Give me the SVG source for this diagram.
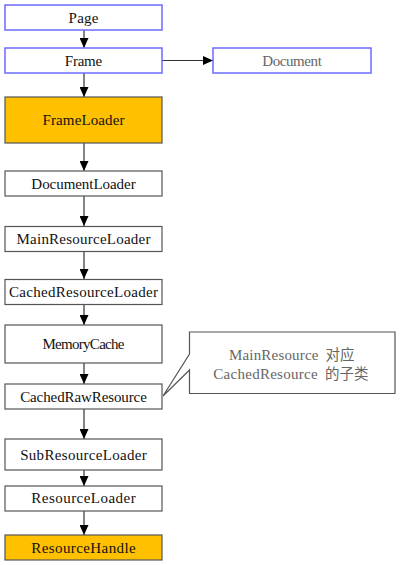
<svg xmlns="http://www.w3.org/2000/svg" width="402" height="565" viewBox="0 0 402 565">
<style>
.blue{fill:#fff;stroke:#6b6bff;stroke-width:1.5}
.box{fill:#fff;stroke:#555;stroke-width:1.2}
.org{fill:#ffc000;stroke:#555;stroke-width:1.2}
text{font-family:"Liberation Serif","Noto Sans CJK SC",serif;font-size:15px;fill:#111;text-anchor:middle}
.gray{fill:#666}
.l{text-anchor:start}
.cjk{font-family:"Noto Sans CJK SC",sans-serif;font-size:14.5px;text-anchor:start}
.conn line{stroke:#666;stroke-width:1.6;fill:none}
</style>
<defs>
<marker id="ah" markerWidth="10" markerHeight="9" refX="10" refY="4.5" orient="auto" markerUnits="userSpaceOnUse">
<path d="M0,0 L10,4.5 L0,9 Z" fill="#000"/>
</marker>
</defs>
<g class="conn">
<line x1="84" y1="30" x2="84" y2="48" marker-end="url(#ah)"/>
<line x1="162" y1="60.5" x2="213" y2="60.5" marker-end="url(#ah)" style="stroke:#333;stroke-width:1.2"/>
<line x1="84" y1="73" x2="84" y2="97" marker-end="url(#ah)"/>
<line x1="84" y1="143" x2="84" y2="171" marker-end="url(#ah)"/>
<line x1="84" y1="196" x2="84" y2="226" marker-end="url(#ah)"/>
<line x1="84" y1="252" x2="84" y2="279" marker-end="url(#ah)"/>
<line x1="84" y1="304" x2="84" y2="325" marker-end="url(#ah)"/>
<line x1="84" y1="363" x2="84" y2="384" marker-end="url(#ah)"/>
<line x1="84" y1="409" x2="84" y2="439" marker-end="url(#ah)"/>
<line x1="84" y1="470" x2="84" y2="486" marker-end="url(#ah)"/>
<line x1="84" y1="511" x2="84" y2="535" marker-end="url(#ah)"/>
</g>
<g id="page"><rect class="blue" x="5" y="5" width="157" height="25"/><text x="83.5" y="22.5" textLength="29.8" lengthAdjust="spacing">Page</text></g>
<g id="frame"><rect class="blue" x="5" y="48" width="157" height="25"/><text x="83.5" y="65.5" textLength="37.3" lengthAdjust="spacing">Frame</text></g>
<g id="document"><rect class="blue" x="213" y="48" width="158" height="25"/><text class="gray" x="292" y="65.5" textLength="59.6" lengthAdjust="spacing">Document</text></g>
<g id="frameloader"><rect class="org" x="5" y="97" width="157" height="46"/><text x="83.5" y="124.5" textLength="82" lengthAdjust="spacing">FrameLoader</text></g>
<g id="documentloader"><rect class="box" x="5" y="171" width="157" height="25"/><text x="83.5" y="188.5" textLength="104.3" lengthAdjust="spacing">DocumentLoader</text></g>
<g id="mainresourceloader"><rect class="box" x="5" y="226.5" width="157" height="25"/><text x="83.5" y="244" textLength="134" lengthAdjust="spacing">MainResourceLoader</text></g>
<g id="cachedresourceloader"><rect class="box" x="5" y="279.5" width="157" height="25"/><text x="83.5" y="297" textLength="149" lengthAdjust="spacing">CachedResourceLoader</text></g>
<g id="memorycache"><rect class="box" x="5" y="325" width="157" height="38"/><text x="83.5" y="349" textLength="82" lengthAdjust="spacing">MemoryCache</text></g>
<g id="cachedrawresource"><rect class="box" x="5" y="384" width="157" height="25"/><text x="83.5" y="401.5" textLength="126.7" lengthAdjust="spacing">CachedRawResource</text></g>
<g id="subresourceloader"><rect class="box" x="5" y="439" width="157" height="31"/><text x="83.5" y="459.5" textLength="126.7" lengthAdjust="spacing">SubResourceLoader</text></g>
<g id="resourceloader"><rect class="box" x="5" y="486" width="157" height="25"/><text x="83.5" y="503" textLength="104.3" lengthAdjust="spacing">ResourceLoader</text></g>
<g id="resourcehandle"><rect class="org" x="5" y="535" width="157" height="25"/><text x="83.5" y="552.5" textLength="104.3" lengthAdjust="spacing">ResourceHandle</text></g>
<g id="callout">
<path d="M189.5,332 H395 V393.5 H189.5 V370 L163,396 L189.5,354 Z" fill="#fff" stroke="#555" stroke-width="1.2"/>
<text class="gray l" x="229" y="359.5" textLength="89.4" lengthAdjust="spacing">MainResource</text>
<text class="gray cjk" x="325.5" y="359.5">对应</text>
<text class="gray l" x="213.3" y="378.5" textLength="104.3" lengthAdjust="spacing">CachedResource</text>
<text class="gray cjk" x="325" y="378.5">的子类</text>
</g>
</svg>
